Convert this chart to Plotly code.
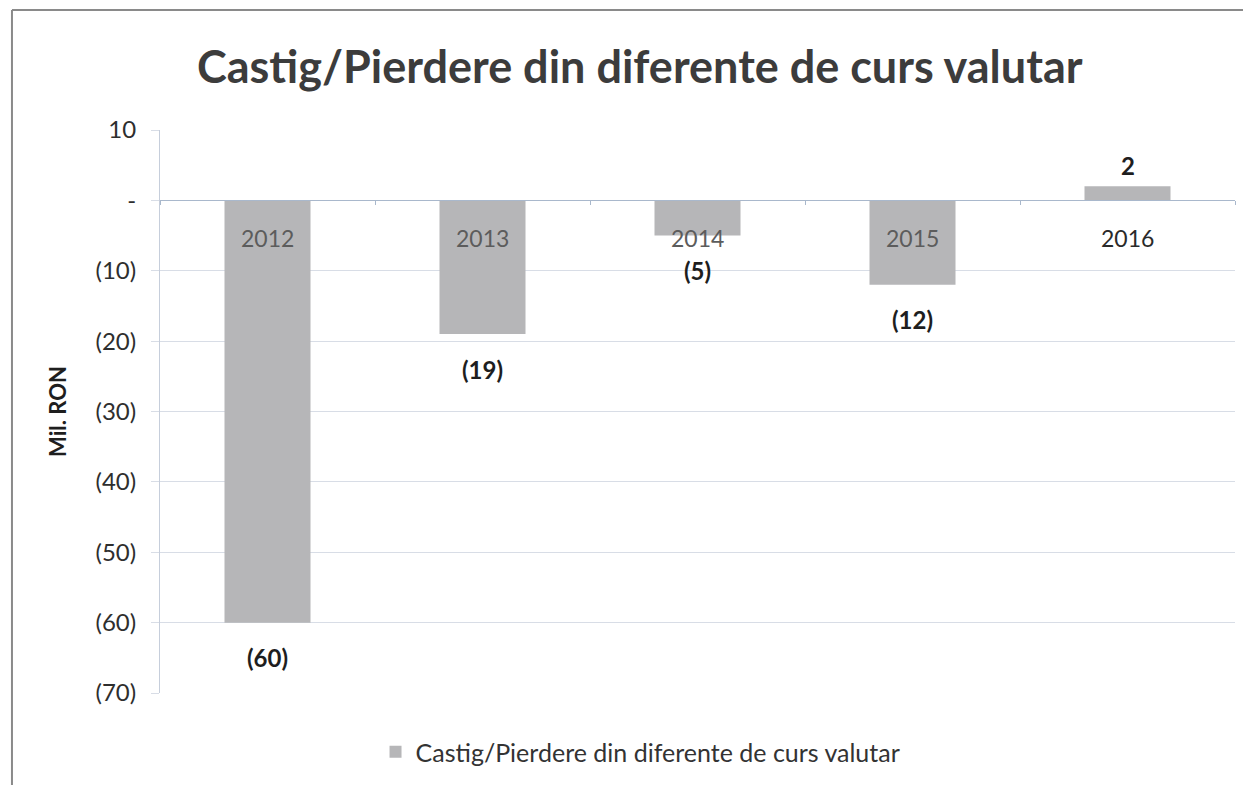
import plotly.graph_objects as go

years = ["2012", "2013", "2014", "2015", "2016"]
values = [-60, -19, -5, -12, 2]
value_labels = ["(60)", "(19)", "(5)", "(12)", "2"]
tick_vals = [10, 0, -10, -20, -30, -40, -50, -60, -70]
tick_text = ["10", "-", "(10)", "(20)", "(30)", "(40)", "(50)", "(60)", "(70)"]
series_name = "Castig/Pierdere din diferente de curs valutar"
title_text = "Castig/Pierdere din diferente de curs valutar"

FONT = "Lato"
BAR = "#b6b6b8"
Y_MIN, Y_MAX = -70, 10

fig = go.Figure()
fig.add_trace(go.Bar(
    x=list(range(len(years))), y=values, name=series_name, width=0.4,
    marker=dict(color=BAR, line=dict(width=0)),
))

# value labels
for i, (v, lab) in enumerate(zip(values, value_labels)):
    fig.add_annotation(
        x=i, y=v, xref="x", yref="y", text="<b>" + lab + "</b>", showarrow=False,
        yanchor="middle", yshift=(-35 if v < 0 else 21),
        font=dict(family=FONT, size=24, color="#1e1e1e"),
    )

# category labels drawn along the zero line
for i, (yr, v) in enumerate(zip(years, values)):
    fig.add_annotation(
        x=i, y=0, xref="x", yref="y", text=yr, showarrow=False,
        yanchor="middle", yshift=-38,
        font=dict(family=FONT, size=23, color="#5c5c5c" if v < 0 else "#2a2a2a"),
    )

# scanned page frame
fig.add_shape(type="line", xref="paper", yref="paper", x0=-0.1377, x1=1.05, y0=1.213, y1=1.213,
              line=dict(color="#8a8a8a", width=2))
fig.add_shape(type="line", xref="paper", yref="paper", x0=-0.1377, x1=-0.1377, y0=1.213, y1=-0.17,
              line=dict(color="#8a8a8a", width=2))

zero_pos = (0 - Y_MIN) / (Y_MAX - Y_MIN)

fig.update_layout(
    width=1251, height=785,
    paper_bgcolor="white", plot_bgcolor="white",
    margin=dict(l=152, r=24, t=122, b=100, autoexpand=False),
    title=dict(text="<b>" + title_text + "</b>", x=0.505, xanchor="center", y=0.924, yanchor="middle",
               font=dict(family=FONT, size=45, color="#3c3c3c")),
    showlegend=True,
    legend=dict(orientation="h", x=0.447, xanchor="center", y=-0.105, yanchor="middle",
                font=dict(family=FONT, size=25, color="#333333")),
)
fig.update_xaxes(type="linear", range=[-0.5, 4.5], showticklabels=False, showgrid=False,
                 zeroline=False, showline=True, linecolor="#a9b8cc", linewidth=1.2,
                 anchor="free", position=zero_pos,
                 tickvals=[-0.5, 0.5, 1.5, 2.5, 3.5, 4.5], ticks="outside", ticklen=4,
                 tickcolor="#a9b8cc")
fig.update_yaxes(range=[Y_MIN, Y_MAX], tickvals=tick_vals, ticktext=tick_text,
                 showgrid=True, gridcolor="#d8dde6", gridwidth=1,
                 zeroline=False, showline=True, linecolor="#c6cedb",
                 tickfont=dict(family=FONT, size=24, color="#2e2e2e"),
                 ticks="outside", ticklen=8, tickcolor="#d8dde6", ticklabelstandoff=10,
                 title=dict(text="<b>Mil. RON</b>", font=dict(family=FONT, size=22, color="#1e1e1e"),
                            standoff=22))

fig.write_html("out.html")
